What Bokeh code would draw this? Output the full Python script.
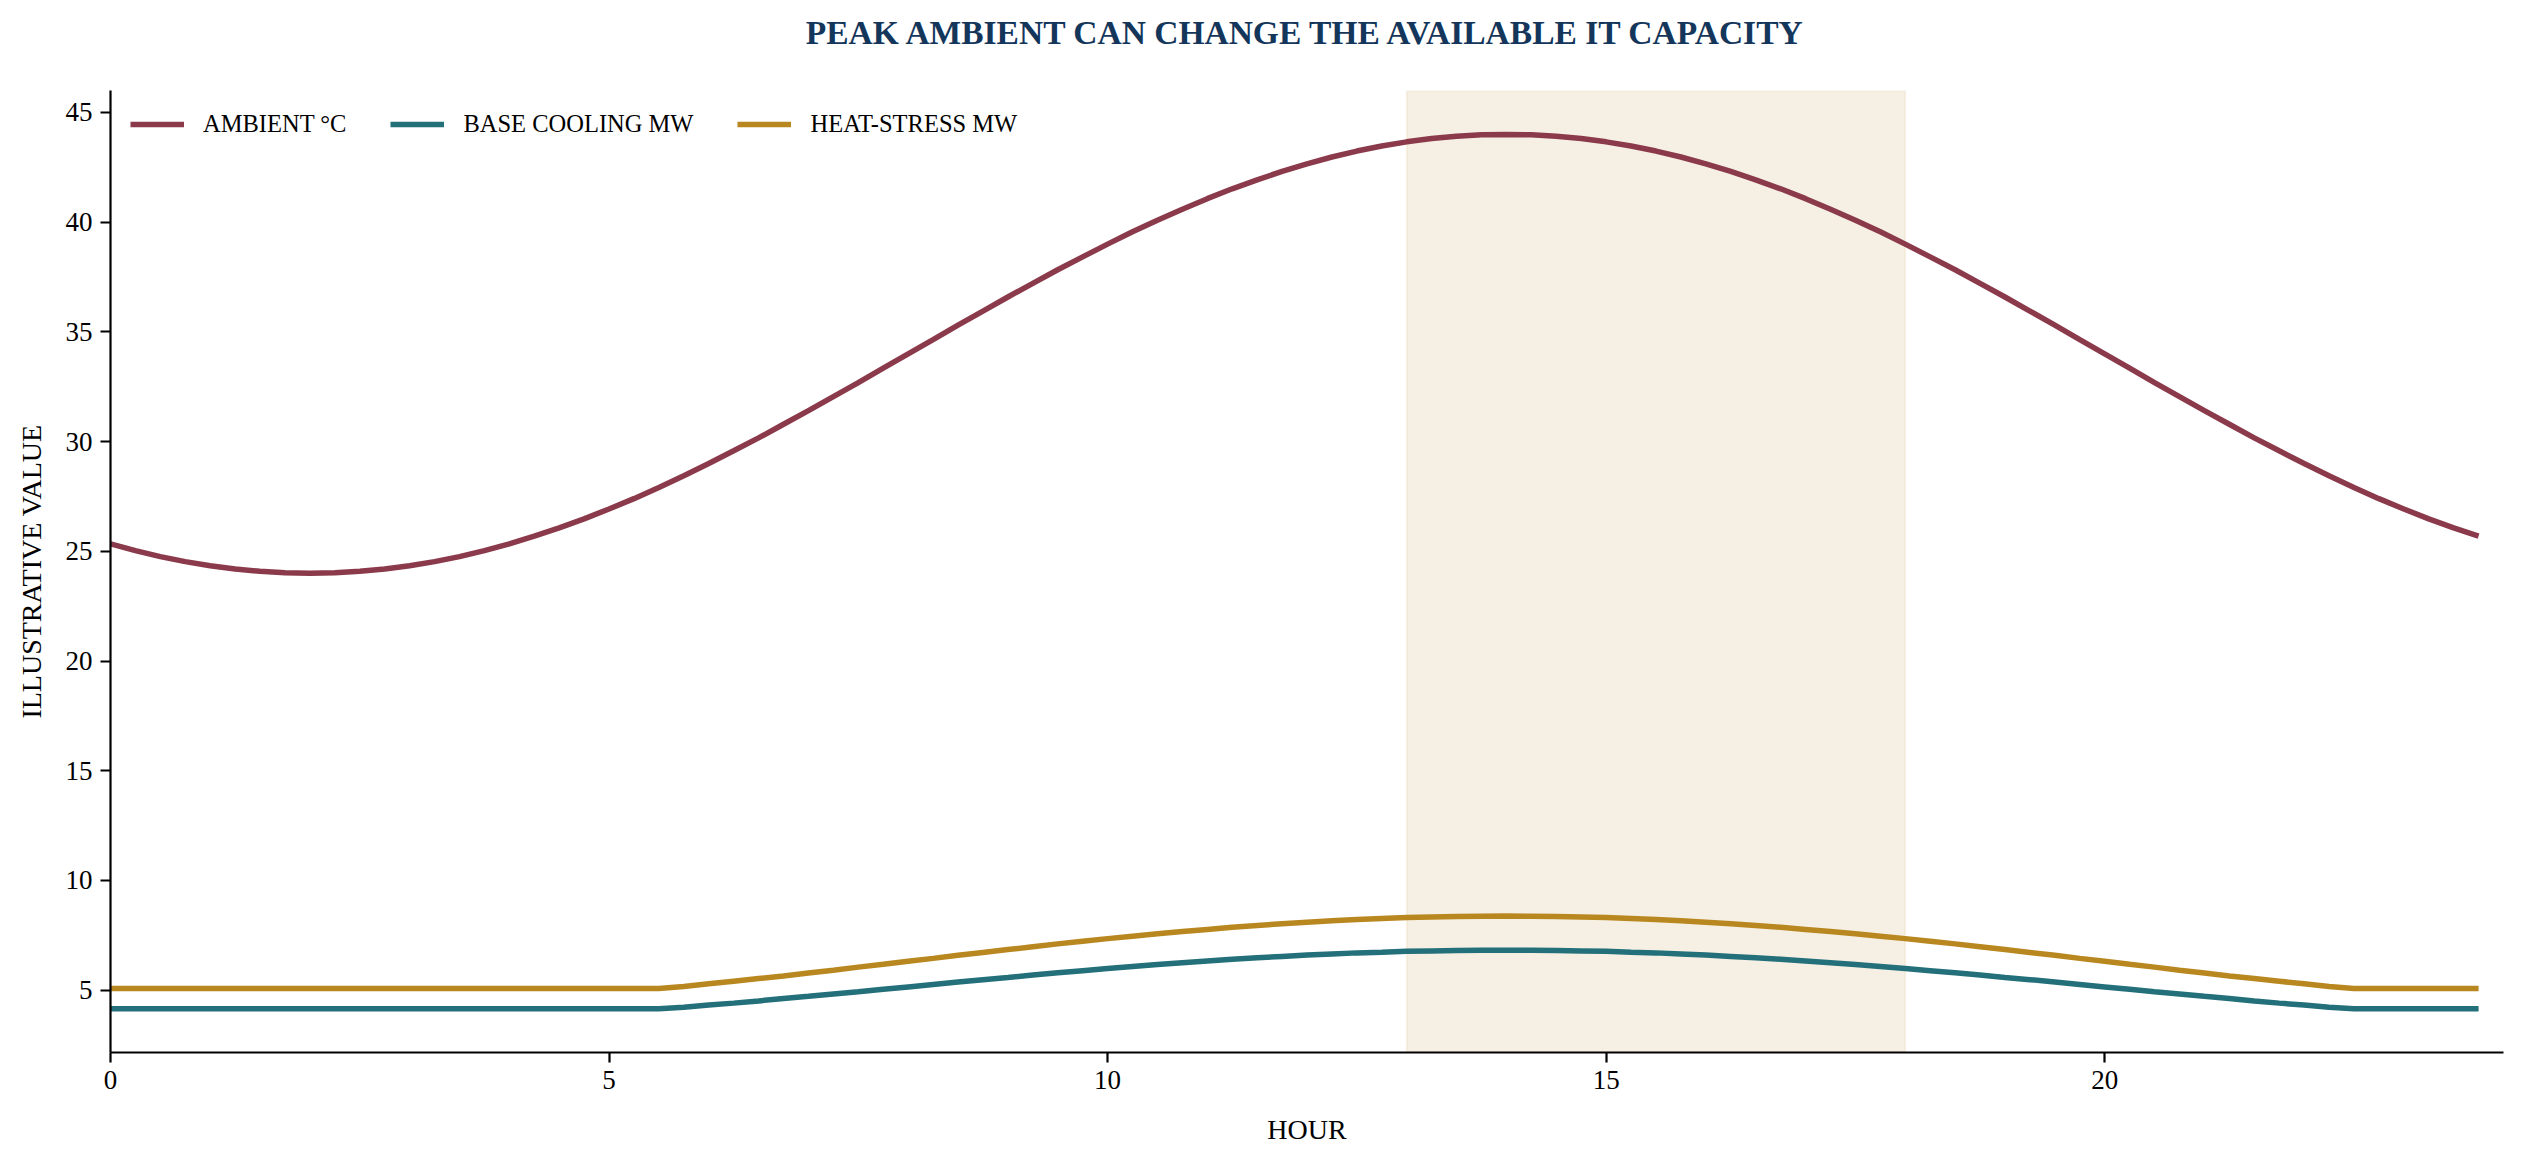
"""
plot.py: ambient temperature against base and heat-stress cooling load over one day.
"""

from bokeh.embed import file_html
from bokeh.models import BoxAnnotation, FixedTicker, Title
from bokeh.plotting import figure
from bokeh.resources import INLINE

# ---------------------------------------------------------------------------
# Data (quarter-hour samples)
# ---------------------------------------------------------------------------
HOURS = [
    0.0, 0.25, 0.5, 0.75, 1.0, 1.25, 1.5, 1.75, 2.0, 2.25, 2.5, 2.75,
    3.0, 3.25, 3.5, 3.75, 4.0, 4.25, 4.5, 4.75, 5.0, 5.25, 5.5, 5.75,
    6.0, 6.25, 6.5, 6.75, 7.0, 7.25, 7.5, 7.75, 8.0, 8.25, 8.5, 8.75,
    9.0, 9.25, 9.5, 9.75, 10.0, 10.25, 10.5, 10.75, 11.0, 11.25, 11.5, 11.75,
    12.0, 12.25, 12.5, 12.75, 13.0, 13.25, 13.5, 13.75, 14.0, 14.25, 14.5, 14.75,
    15.0, 15.25, 15.5, 15.75, 16.0, 16.25, 16.5, 16.75, 17.0, 17.25, 17.5, 17.75,
    18.0, 18.25, 18.5, 18.75, 19.0, 19.25, 19.5, 19.75, 20.0, 20.25, 20.5, 20.75,
    21.0, 21.25, 21.5, 21.75, 22.0, 22.25, 22.5, 22.75, 23.0, 23.25, 23.5, 23.75,
]

AMBIENT_C = [
    25.34, 25.03, 24.76, 24.53, 24.34, 24.19, 24.09, 24.02, 24.00, 24.02, 24.09, 24.19,
    24.34, 24.53, 24.76, 25.03, 25.34, 25.69, 26.07, 26.48, 26.93, 27.40, 27.91, 28.44,
    29.00, 29.58, 30.17, 30.79, 31.41, 32.05, 32.69, 33.35, 34.00, 34.65, 35.31, 35.95,
    36.59, 37.21, 37.83, 38.42, 39.00, 39.56, 40.09, 40.59, 41.07, 41.52, 41.93, 42.31,
    42.66, 42.97, 43.24, 43.47, 43.66, 43.81, 43.91, 43.98, 44.00, 43.98, 43.91, 43.81,
    43.66, 43.47, 43.24, 42.97, 42.66, 42.31, 41.93, 41.52, 41.07, 40.59, 40.09, 39.56,
    39.00, 38.42, 37.83, 37.21, 36.59, 35.95, 35.31, 34.65, 34.00, 33.35, 32.69, 32.05,
    31.41, 30.79, 30.17, 29.58, 29.00, 28.44, 27.91, 27.40, 26.93, 26.48, 26.07, 25.69,
]

BASE_COOLING_MW = [
    4.15, 4.15, 4.15, 4.15, 4.15, 4.15, 4.15, 4.15, 4.15, 4.15, 4.15, 4.15,
    4.15, 4.15, 4.15, 4.15, 4.15, 4.15, 4.15, 4.15, 4.15, 4.15, 4.15, 4.22,
    4.32, 4.41, 4.51, 4.62, 4.72, 4.83, 4.93, 5.04, 5.15, 5.26, 5.37, 5.48,
    5.58, 5.69, 5.79, 5.89, 5.99, 6.08, 6.17, 6.25, 6.33, 6.41, 6.48, 6.54,
    6.60, 6.65, 6.70, 6.73, 6.77, 6.79, 6.81, 6.82, 6.82, 6.82, 6.81, 6.79,
    6.77, 6.73, 6.70, 6.65, 6.60, 6.54, 6.48, 6.41, 6.33, 6.25, 6.17, 6.08,
    5.99, 5.89, 5.79, 5.69, 5.58, 5.48, 5.37, 5.26, 5.15, 5.04, 4.93, 4.83,
    4.72, 4.62, 4.51, 4.41, 4.32, 4.22, 4.15, 4.15, 4.15, 4.15, 4.15, 4.15,
]

HEAT_STRESS_MW = [
    5.08, 5.08, 5.08, 5.08, 5.08, 5.08, 5.08, 5.08, 5.08, 5.08, 5.08, 5.08,
    5.08, 5.08, 5.08, 5.08, 5.08, 5.08, 5.08, 5.08, 5.08, 5.08, 5.08, 5.17,
    5.29, 5.41, 5.53, 5.65, 5.78, 5.91, 6.05, 6.18, 6.32, 6.45, 6.59, 6.72,
    6.85, 6.98, 7.11, 7.23, 7.35, 7.46, 7.57, 7.67, 7.77, 7.87, 7.95, 8.03,
    8.10, 8.16, 8.22, 8.27, 8.31, 8.34, 8.36, 8.37, 8.38, 8.37, 8.36, 8.34,
    8.31, 8.27, 8.22, 8.16, 8.10, 8.03, 7.95, 7.87, 7.77, 7.67, 7.57, 7.46,
    7.35, 7.23, 7.11, 6.98, 6.85, 6.72, 6.59, 6.45, 6.32, 6.18, 6.05, 5.91,
    5.78, 5.65, 5.53, 5.41, 5.29, 5.17, 5.08, 5.08, 5.08, 5.08, 5.08, 5.08,
]

PEAK_WINDOW = (13, 18)
X_TICKS = [0, 5, 10, 15, 20]
Y_TICKS = [5, 10, 15, 20, 25, 30, 35, 40, 45]
TITLE = "PEAK AMBIENT CAN CHANGE THE AVAILABLE IT CAPACITY"

# ---------------------------------------------------------------------------
# Styling
# ---------------------------------------------------------------------------
FONT = "Liberation Serif"
C_AMBIENT = "#8B3A4B"
C_BASE = "#23707A"
C_HEAT = "#B9871F"
C_TITLE = "#14365B"

p = figure(
    width=2517, height=1153,
    x_range=(0, 24), y_range=(2.16, 46.0),
    x_axis_label="HOUR", y_axis_label="ILLUSTRATIVE VALUE",
    title=TITLE,
    output_backend="svg", toolbar_location=None,
    min_border_left=110, min_border_right=14,
    min_border_top=89, min_border_bottom=101,
)

# blank spacer between frame and title, pushes the title up to the top edge
p.add_layout(Title(text=" ", text_font_size="1px", standoff=26), "above")

# peak-heat window, full height behind the lines
p.add_layout(BoxAnnotation(
    left=PEAK_WINDOW[0], right=PEAK_WINDOW[1],
    fill_color=C_HEAT, fill_alpha=0.12,
    line_color=C_HEAT, line_alpha=0.08, line_width=2,
    level="underlay",
))

p.line(HOURS, AMBIENT_C, line_width=5.5, color=C_AMBIENT, legend_label="AMBIENT °C")
p.line(HOURS, BASE_COOLING_MW, line_width=5.5, color=C_BASE, legend_label="BASE COOLING MW")
p.line(HOURS, HEAT_STRESS_MW, line_width=5.5, color=C_HEAT, legend_label="HEAT-STRESS MW")

p.title.align = "center"
p.title.text_font = FONT
p.title.text_font_size = "33.5px"
p.title.text_font_style = "bold"
p.title.text_color = C_TITLE
p.title.standoff = 22

p.outline_line_color = None
p.xgrid.grid_line_color = None
p.ygrid.grid_line_color = None

p.xaxis.ticker = FixedTicker(ticks=X_TICKS)
p.yaxis.ticker = FixedTicker(ticks=Y_TICKS)

for ax in (p.xaxis, p.yaxis):
    ax.axis_line_color = "black"
    ax.axis_line_width = 2.2
    ax.major_tick_line_color = "black"
    ax.major_tick_line_width = 2.2
    ax.major_tick_out = 10
    ax.major_tick_in = 0
    ax.minor_tick_line_color = None
    ax.major_label_text_font = FONT
    ax.major_label_text_font_size = "27px"
    ax.major_label_text_color = "black"
    ax.axis_label_text_font = FONT
    ax.axis_label_text_font_size = "28px"
    ax.axis_label_text_font_style = "normal"
    ax.axis_label_text_color = "black"

p.xaxis.major_label_standoff = 8
p.xaxis.axis_label_standoff = 22
p.yaxis.major_label_standoff = 8
p.yaxis.axis_label_standoff = 16

p.legend.location = "top_left"
p.legend.orientation = "horizontal"
p.legend.margin = 20
p.legend.padding = 20
p.legend.spacing = 44
p.legend.glyph_width = 54
p.legend.glyph_height = 26
p.legend.label_height = 26
p.legend.label_standoff = 19
p.legend.label_text_font = FONT
p.legend.label_text_font_size = "24.5px"
p.legend.label_text_color = "black"
p.legend.border_line_color = None
p.legend.background_fill_alpha = 0

open("out.html", "w").write(file_html(p, INLINE))
